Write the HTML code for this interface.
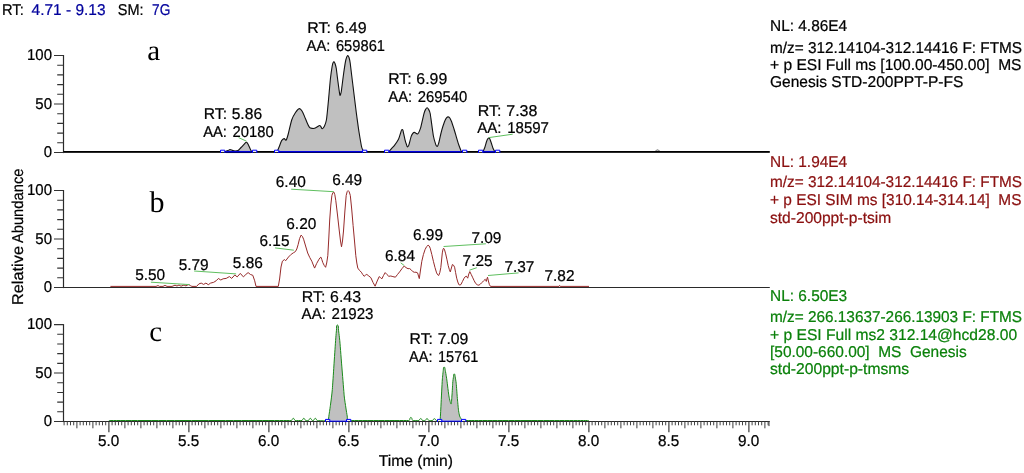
<!DOCTYPE html>
<html><head><meta charset="utf-8"><title>Chromatogram</title>
<style>
html,body{margin:0;padding:0;background:#fff;}
body{width:1024px;height:473px;overflow:hidden;}
svg{display:block;font-family:"Liberation Sans",Arial,sans-serif;}
svg text{text-rendering:geometricPrecision;white-space:pre;stroke-width:0.22px;paint-order:stroke;}
</style></head><body>
<svg width="1024" height="473" viewBox="0 0 1024 473">
<rect width="1024" height="473" fill="#fff"/>
<text x="108.7" y="446.2" fill="#000" stroke="#000" font-size="15.7" text-anchor="middle" textLength="21.3" lengthAdjust="spacingAndGlyphs">5.0</text>
<text x="188.7" y="446.2" fill="#000" stroke="#000" font-size="15.7" text-anchor="middle" textLength="21.3" lengthAdjust="spacingAndGlyphs">5.5</text>
<text x="268.7" y="446.2" fill="#000" stroke="#000" font-size="15.7" text-anchor="middle" textLength="21.3" lengthAdjust="spacingAndGlyphs">6.0</text>
<text x="348.7" y="446.2" fill="#000" stroke="#000" font-size="15.7" text-anchor="middle" textLength="21.3" lengthAdjust="spacingAndGlyphs">6.5</text>
<text x="428.7" y="446.2" fill="#000" stroke="#000" font-size="15.7" text-anchor="middle" textLength="21.3" lengthAdjust="spacingAndGlyphs">7.0</text>
<text x="508.7" y="446.2" fill="#000" stroke="#000" font-size="15.7" text-anchor="middle" textLength="21.3" lengthAdjust="spacingAndGlyphs">7.5</text>
<text x="588.7" y="446.2" fill="#000" stroke="#000" font-size="15.7" text-anchor="middle" textLength="21.3" lengthAdjust="spacingAndGlyphs">8.0</text>
<text x="668.7" y="446.2" fill="#000" stroke="#000" font-size="15.7" text-anchor="middle" textLength="21.3" lengthAdjust="spacingAndGlyphs">8.5</text>
<text x="748.7" y="446.2" fill="#000" stroke="#000" font-size="15.7" text-anchor="middle" textLength="21.3" lengthAdjust="spacingAndGlyphs">9.0</text>
<text x="415.9" y="465.6" fill="#000" stroke="#000" font-size="15.7" text-anchor="middle" textLength="74.2" lengthAdjust="spacingAndGlyphs">Time (min)</text>
<g transform="translate(22.7,305.0) rotate(-90)" stroke="#000" font-size="15.7"><text x="0" y="0" textLength="59.0" lengthAdjust="spacingAndGlyphs">Relative</text><text x="61.9" y="0" textLength="74.6" lengthAdjust="spacingAndGlyphs">Abundance</text></g>
<text x="2.0" y="15.0" fill="#000" stroke="#000" font-size="15.7" textLength="21.8" lengthAdjust="spacingAndGlyphs">RT:</text>
<text x="31.6" y="15.0" fill="#00009c" stroke="#00009c" font-size="15.7" textLength="73.9" lengthAdjust="spacingAndGlyphs">4.71 - 9.13</text>
<text x="117.8" y="15.0" fill="#000" stroke="#000" font-size="15.7" textLength="25.8" lengthAdjust="spacingAndGlyphs">SM:</text>
<text x="152.0" y="15.0" fill="#00009c" stroke="#00009c" font-size="15.7" textLength="18.3" lengthAdjust="spacingAndGlyphs">7G</text>
<text x="147.3" y="60.1" font-family="'Liberation Serif',serif" font-size="29" stroke="none">a</text>
<text x="149.5" y="211.7" font-family="'Liberation Serif',serif" font-size="30" stroke="none">b</text>
<text x="149.2" y="340.8" font-family="'Liberation Serif',serif" font-size="28.8" stroke="none">c</text>
<path d="M225.5,151.5 C225.5,151.5 227.4,150.8 228.0,150.6 C228.6,150.4 229.4,149.6 230.0,149.6 C230.6,149.6 231.8,150.2 232.5,150.4 C233.2,150.6 234.3,151.0 235.0,151.0 C235.7,151.0 237.3,151.0 238.0,150.6 C238.7,150.2 240.2,148.3 241.0,147.5 C241.8,146.7 244.0,144.3 244.5,143.8 C245.0,143.3 245.8,142.1 246.5,142.2 C247.2,142.3 247.8,143.8 248.2,144.5 C248.6,145.2 249.6,147.7 250.0,148.5 C250.4,149.3 251.6,151.5 251.6,151.5Z" fill="#c0c0c0" stroke="none"/>
<path d="M225.5,151.5 C225.5,151.5 227.4,150.8 228.0,150.6 C228.6,150.4 229.4,149.6 230.0,149.6 C230.6,149.6 231.8,150.2 232.5,150.4 C233.2,150.6 234.3,151.0 235.0,151.0 C235.7,151.0 237.3,151.0 238.0,150.6 C238.7,150.2 240.2,148.3 241.0,147.5 C241.8,146.7 244.0,144.3 244.5,143.8 C245.0,143.3 245.8,142.1 246.5,142.2 C247.2,142.3 247.8,143.8 248.2,144.5 C248.6,145.2 249.6,147.7 250.0,148.5 C250.4,149.3 251.6,151.5 251.6,151.5" fill="none" stroke="#111" stroke-width="1.1"/>
<path d="M277.2,151.5 C277.2,151.5 278.9,147.5 279.5,146.0 C280.1,144.5 281.1,141.3 281.6,140.6 C282.1,139.9 283.4,138.7 284.1,138.6 C284.8,138.5 285.7,140.7 286.1,140.2 C286.5,139.7 288.0,135.0 288.5,133.0 C289.0,131.0 291.0,122.1 291.7,120.0 C292.4,117.9 294.7,113.7 295.5,112.5 C296.3,111.3 298.3,108.8 299.3,108.6 C300.3,108.4 301.5,110.2 302.0,111.0 C302.5,111.8 303.8,114.7 304.4,116.1 C305.0,117.5 306.4,121.1 307.0,122.5 C307.6,123.9 309.0,126.8 309.5,127.4 C310.0,128.0 311.3,128.3 312.0,128.4 C312.7,128.5 313.8,128.5 314.5,128.3 C315.2,128.1 316.3,127.4 317.0,127.0 C317.7,126.6 319.1,125.5 319.6,125.5 C320.1,125.5 320.7,126.4 321.0,126.8 C321.3,127.2 321.7,128.9 322.3,128.8 C322.9,128.7 324.1,126.9 324.5,126.0 C324.9,125.1 326.1,121.7 326.4,120.0 C326.7,118.3 328.0,105.4 328.5,100.0 C329.0,94.6 330.1,81.3 330.5,78.0 C330.9,74.7 332.0,67.2 332.2,66.0 C332.4,64.8 333.2,62.2 333.6,61.8 C334.0,61.4 334.8,62.9 335.0,63.5 C335.2,64.1 336.1,67.1 336.3,68.5 C336.5,69.9 337.5,78.4 338.0,82.0 C338.5,85.6 339.6,94.3 339.9,95.2 C340.2,96.1 341.0,92.9 341.2,92.0 C341.4,91.1 343.2,76.5 343.7,73.0 C344.2,69.5 345.5,61.2 345.8,60.0 C346.1,58.8 347.0,56.0 347.5,55.6 C348.0,55.2 348.8,56.9 349.0,57.5 C349.2,58.1 350.0,61.5 350.2,63.0 C350.4,64.5 352.2,79.8 353.0,86.0 C353.8,92.2 355.7,108.5 356.4,113.5 C357.1,118.5 358.4,128.2 359.0,132.0 C359.6,135.8 361.2,144.9 361.4,146.0 C361.6,147.1 362.5,149.5 362.8,150.0 C363.1,150.5 364.2,151.5 364.2,151.5Z" fill="#c0c0c0" stroke="none"/>
<path d="M277.2,151.5 C277.2,151.5 278.9,147.5 279.5,146.0 C280.1,144.5 281.1,141.3 281.6,140.6 C282.1,139.9 283.4,138.7 284.1,138.6 C284.8,138.5 285.7,140.7 286.1,140.2 C286.5,139.7 288.0,135.0 288.5,133.0 C289.0,131.0 291.0,122.1 291.7,120.0 C292.4,117.9 294.7,113.7 295.5,112.5 C296.3,111.3 298.3,108.8 299.3,108.6 C300.3,108.4 301.5,110.2 302.0,111.0 C302.5,111.8 303.8,114.7 304.4,116.1 C305.0,117.5 306.4,121.1 307.0,122.5 C307.6,123.9 309.0,126.8 309.5,127.4 C310.0,128.0 311.3,128.3 312.0,128.4 C312.7,128.5 313.8,128.5 314.5,128.3 C315.2,128.1 316.3,127.4 317.0,127.0 C317.7,126.6 319.1,125.5 319.6,125.5 C320.1,125.5 320.7,126.4 321.0,126.8 C321.3,127.2 321.7,128.9 322.3,128.8 C322.9,128.7 324.1,126.9 324.5,126.0 C324.9,125.1 326.1,121.7 326.4,120.0 C326.7,118.3 328.0,105.4 328.5,100.0 C329.0,94.6 330.1,81.3 330.5,78.0 C330.9,74.7 332.0,67.2 332.2,66.0 C332.4,64.8 333.2,62.2 333.6,61.8 C334.0,61.4 334.8,62.9 335.0,63.5 C335.2,64.1 336.1,67.1 336.3,68.5 C336.5,69.9 337.5,78.4 338.0,82.0 C338.5,85.6 339.6,94.3 339.9,95.2 C340.2,96.1 341.0,92.9 341.2,92.0 C341.4,91.1 343.2,76.5 343.7,73.0 C344.2,69.5 345.5,61.2 345.8,60.0 C346.1,58.8 347.0,56.0 347.5,55.6 C348.0,55.2 348.8,56.9 349.0,57.5 C349.2,58.1 350.0,61.5 350.2,63.0 C350.4,64.5 352.2,79.8 353.0,86.0 C353.8,92.2 355.7,108.5 356.4,113.5 C357.1,118.5 358.4,128.2 359.0,132.0 C359.6,135.8 361.2,144.9 361.4,146.0 C361.6,147.1 362.5,149.5 362.8,150.0 C363.1,150.5 364.2,151.5 364.2,151.5" fill="none" stroke="#111" stroke-width="1.1"/>
<path d="M389.0,151.5 C389.0,151.5 390.8,149.4 391.5,148.6 C392.2,147.8 393.6,146.5 394.3,145.6 C395.0,144.7 397.7,140.9 398.5,139.3 C399.3,137.7 400.2,134.0 400.6,133.0 C401.0,132.0 401.2,129.7 402.1,129.5 C403.0,129.3 403.2,131.7 403.4,132.5 C403.6,133.3 404.6,138.0 404.9,139.3 C405.2,140.6 406.0,143.2 406.3,144.0 C406.6,144.8 407.0,147.1 407.8,146.8 C408.6,146.5 409.1,144.1 409.4,143.0 C409.7,141.9 410.9,137.3 411.2,136.4 C411.5,135.5 412.5,133.8 412.8,133.4 C413.1,133.0 413.9,132.4 414.4,132.4 C414.9,132.4 415.6,133.0 416.0,133.2 C416.4,133.4 417.2,134.2 417.6,134.0 C418.0,133.8 418.9,132.3 419.2,131.6 C419.5,130.9 420.4,128.8 420.7,127.7 C421.0,126.6 423.6,115.2 423.9,113.9 C424.2,112.6 425.3,109.9 425.6,109.4 C425.9,108.9 426.5,107.8 427.1,107.8 C427.7,107.8 428.3,108.9 428.6,109.4 C428.9,109.9 430.1,112.7 430.3,114.0 C430.5,115.3 433.0,134.0 433.4,136.0 C433.8,138.0 435.1,142.5 435.4,143.4 C435.7,144.3 436.3,146.7 437.2,146.4 C438.1,146.1 438.6,143.2 439.0,142.0 C439.4,140.8 440.3,136.1 440.8,134.0 C441.3,131.9 442.5,127.5 443.0,126.0 C443.5,124.5 444.6,121.2 445.0,120.4 C445.4,119.6 446.4,117.9 446.7,117.6 C447.0,117.3 447.8,116.8 448.2,116.9 C448.6,117.0 449.5,117.6 449.8,118.0 C450.1,118.4 451.0,120.4 451.4,121.3 C451.8,122.2 453.3,126.9 454.0,129.0 C454.7,131.1 456.1,136.2 456.7,138.2 C457.3,140.2 458.4,143.9 459.0,145.5 C459.6,147.1 461.3,151.5 461.3,151.5Z" fill="#c0c0c0" stroke="none"/>
<path d="M389.0,151.5 C389.0,151.5 390.8,149.4 391.5,148.6 C392.2,147.8 393.6,146.5 394.3,145.6 C395.0,144.7 397.7,140.9 398.5,139.3 C399.3,137.7 400.2,134.0 400.6,133.0 C401.0,132.0 401.2,129.7 402.1,129.5 C403.0,129.3 403.2,131.7 403.4,132.5 C403.6,133.3 404.6,138.0 404.9,139.3 C405.2,140.6 406.0,143.2 406.3,144.0 C406.6,144.8 407.0,147.1 407.8,146.8 C408.6,146.5 409.1,144.1 409.4,143.0 C409.7,141.9 410.9,137.3 411.2,136.4 C411.5,135.5 412.5,133.8 412.8,133.4 C413.1,133.0 413.9,132.4 414.4,132.4 C414.9,132.4 415.6,133.0 416.0,133.2 C416.4,133.4 417.2,134.2 417.6,134.0 C418.0,133.8 418.9,132.3 419.2,131.6 C419.5,130.9 420.4,128.8 420.7,127.7 C421.0,126.6 423.6,115.2 423.9,113.9 C424.2,112.6 425.3,109.9 425.6,109.4 C425.9,108.9 426.5,107.8 427.1,107.8 C427.7,107.8 428.3,108.9 428.6,109.4 C428.9,109.9 430.1,112.7 430.3,114.0 C430.5,115.3 433.0,134.0 433.4,136.0 C433.8,138.0 435.1,142.5 435.4,143.4 C435.7,144.3 436.3,146.7 437.2,146.4 C438.1,146.1 438.6,143.2 439.0,142.0 C439.4,140.8 440.3,136.1 440.8,134.0 C441.3,131.9 442.5,127.5 443.0,126.0 C443.5,124.5 444.6,121.2 445.0,120.4 C445.4,119.6 446.4,117.9 446.7,117.6 C447.0,117.3 447.8,116.8 448.2,116.9 C448.6,117.0 449.5,117.6 449.8,118.0 C450.1,118.4 451.0,120.4 451.4,121.3 C451.8,122.2 453.3,126.9 454.0,129.0 C454.7,131.1 456.1,136.2 456.7,138.2 C457.3,140.2 458.4,143.9 459.0,145.5 C459.6,147.1 461.3,151.5 461.3,151.5" fill="none" stroke="#111" stroke-width="1.1"/>
<path d="M483.1,151.5 C483.1,151.5 484.4,148.6 484.8,147.5 C485.2,146.4 486.1,142.9 486.4,142.0 C486.7,141.1 487.6,139.1 487.8,138.8 C488.0,138.5 488.5,138.0 488.8,138.0 C489.1,138.0 489.7,138.6 489.9,139.0 C490.1,139.4 490.9,141.9 491.3,143.0 C491.7,144.1 492.6,147.3 493.0,148.2 C493.4,149.1 494.7,151.5 494.7,151.5Z" fill="#c0c0c0" stroke="none"/>
<path d="M483.1,151.5 C483.1,151.5 484.4,148.6 484.8,147.5 C485.2,146.4 486.1,142.9 486.4,142.0 C486.7,141.1 487.6,139.1 487.8,138.8 C488.0,138.5 488.5,138.0 488.8,138.0 C489.1,138.0 489.7,138.6 489.9,139.0 C490.1,139.4 490.9,141.9 491.3,143.0 C491.7,144.1 492.6,147.3 493.0,148.2 C493.4,149.1 494.7,151.5 494.7,151.5" fill="none" stroke="#111" stroke-width="1.1"/>
<path d="M655.5,150.7 C655.5,150.7 656.2,150.4 656.5,150.3 C656.8,150.2 657.2,149.9 657.5,149.9 C657.8,149.9 658.2,150.2 658.5,150.3 C658.8,150.4 659.6,150.7 659.6,150.7" fill="#ddd" stroke="#444" stroke-width="0.8"/>
<path d="M238.6,137.6 L246.5,141.2" stroke="#5fbf5f" stroke-width="1" fill="none"/>
<path d="M488.8,137.6 L512.7,134.2" stroke="#5fbf5f" stroke-width="1" fill="none"/>
<text x="203.8" y="118.7" fill="#000" stroke="#000" font-size="15.7" textLength="58.3" lengthAdjust="spacingAndGlyphs" word-spacing="0.3">RT: 5.86</text>
<text x="203.2" y="136.5" fill="#000" stroke="#000" font-size="15.7" textLength="70.4" lengthAdjust="spacingAndGlyphs" word-spacing="1.6">AA: 20180</text>
<text x="307.2" y="33.1" fill="#000" stroke="#000" font-size="15.7" textLength="59.4" lengthAdjust="spacingAndGlyphs" word-spacing="0.3">RT: 6.49</text>
<text x="306.6" y="50.6" fill="#000" stroke="#000" font-size="15.7" textLength="78.4" lengthAdjust="spacingAndGlyphs" word-spacing="1.6">AA: 659861</text>
<text x="388.2" y="84.0" fill="#000" stroke="#000" font-size="15.7" textLength="59.0" lengthAdjust="spacingAndGlyphs" word-spacing="0.3">RT: 6.99</text>
<text x="388.3" y="102.4" fill="#000" stroke="#000" font-size="15.7" textLength="79.0" lengthAdjust="spacingAndGlyphs" word-spacing="1.6">AA: 269540</text>
<text x="477.8" y="115.7" fill="#000" stroke="#000" font-size="15.7" textLength="59.6" lengthAdjust="spacingAndGlyphs" word-spacing="0.3">RT: 7.38</text>
<text x="477.2" y="133.0" fill="#000" stroke="#000" font-size="15.7" textLength="71.8" lengthAdjust="spacingAndGlyphs" word-spacing="1.6">AA: 18597</text>
<path d="M110.4,286.4 L156.0,286.4 L158.0,285.6 L159.5,286.4 L163.0,286.4 L165.0,285.4 L167.0,286.4 L172.0,286.4 L175.0,285.2 L177.0,286.0 L179.0,285.0 L181.0,286.2 L184.0,285.0 L186.0,286.0 L187.0,285.2 L188.8,284.6 L190.4,285.6 L191.9,286.4 L196.6,286.4 L198.9,283.9 L201.2,283.1 L203.6,284.4 L205.9,283.1 L208.3,284.7 L210.6,283.1 L213.7,282.3 L216.1,280.8 L218.4,278.5 L220.8,280.0 L223.1,278.8 L226.2,278.4 L229.4,276.6 L231.7,278.4 L234.8,275.0 L237.2,276.9 L240.3,273.4 L243.4,276.9 L245.8,274.5 L248.1,272.6 L250.5,274.5 L252.8,275.3 L254.7,280.8 L256.0,286.4 L278.3,286.4 L279.6,279.0 L281.0,267.0 L282.4,261.2 L284.4,259.6 L285.7,260.7 L288.5,257.0 L291.2,254.3 L293.4,252.8 L295.4,251.6 L296.8,249.0 L298.1,244.7 L299.6,238.5 L301.1,235.1 L302.3,236.3 L303.6,239.2 L305.6,246.0 L307.7,253.0 L309.8,257.6 L311.8,261.2 L313.3,265.0 L314.6,268.1 L316.6,263.6 L318.7,259.8 L320.0,257.8 L320.9,257.1 L321.8,259.5 L322.8,262.6 L324.2,265.4 L325.6,267.3 L326.7,263.0 L327.8,255.7 L328.8,238.0 L329.7,220.0 L330.8,205.0 L331.9,195.4 L332.9,192.6 L333.8,192.0 L334.8,194.6 L335.8,200.7 L337.5,215.0 L339.3,231.0 L340.5,241.0 L341.5,246.8 L342.5,241.0 L343.5,231.0 L344.9,211.0 L346.2,195.4 L347.2,191.6 L348.1,190.6 L349.2,191.8 L350.3,195.4 L351.7,209.0 L353.1,225.5 L354.5,241.0 L355.8,255.7 L356.8,263.0 L357.8,268.1 L359.5,270.4 L361.3,272.2 L362.8,274.6 L364.1,276.3 L365.4,275.2 L366.8,274.4 L368.8,276.0 L370.9,277.7 L373.0,282.4 L375.1,286.2 L377.2,281.0 L379.2,276.6 L380.5,277.6 L381.9,278.8 L383.5,275.5 L385.2,272.6 L387.0,274.6 L388.8,276.3 L390.8,276.0 L392.9,276.6 L395.4,277.2 L397.4,274.6 L399.6,271.9 L402.0,268.6 L404.2,266.0 L406.0,267.6 L408.0,268.7 L409.6,268.6 L411.2,269.8 L412.8,271.6 L414.4,272.3 L416.0,272.2 L417.6,272.9 L418.5,276.0 L419.3,278.6 L420.5,270.0 L421.8,261.3 L423.4,254.6 L425.0,249.7 L426.6,246.6 L428.1,245.2 L429.2,246.0 L430.2,248.2 L431.8,254.5 L433.4,261.3 L435.0,267.6 L436.6,272.9 L437.7,274.8 L438.7,275.5 L439.8,272.6 L440.8,267.6 L441.6,260.0 L442.3,252.9 L443.0,249.3 L443.6,248.2 L444.6,250.0 L445.7,253.9 L447.0,259.8 L448.2,265.5 L449.3,269.4 L450.3,271.9 L451.4,268.0 L452.4,264.5 L453.5,265.2 L454.6,267.2 L455.6,272.6 L456.7,278.2 L457.8,282.0 L458.8,284.6 L459.9,285.0 L460.9,284.6 L462.5,281.4 L464.1,278.2 L465.2,276.8 L466.2,276.1 L467.0,277.0 L467.7,278.2 L468.8,274.0 L469.8,271.6 L471.2,274.4 L472.5,277.2 L474.1,280.6 L475.7,283.5 L477.3,284.8 L478.9,285.2 L480.5,284.0 L482.0,282.5 L483.6,280.8 L485.2,279.3 L485.8,280.6 L486.3,281.4 L486.9,279.0 L487.5,277.2 L488.4,281.0 L489.4,284.6 L490.5,286.4 L559.0,286.4 L559.6,285.4 L560.2,286.4 L589.0,286.4" fill="none" stroke="#962a2a" stroke-width="1" stroke-linejoin="round"/>
<path d="M150.9,282.2 L189.5,284.6" stroke="#5fbf5f" stroke-width="1" fill="none"/>
<path d="M194.1,271 L236.1,273.9" stroke="#5fbf5f" stroke-width="1" fill="none"/>
<path d="M275.1,247.9 L293.8,250.2" stroke="#5fbf5f" stroke-width="1" fill="none"/>
<path d="M291.2,189.2 L333.8,191.7" stroke="#5fbf5f" stroke-width="1" fill="none"/>
<path d="M400.7,262.8 L404.2,265.5" stroke="#5fbf5f" stroke-width="1" fill="none"/>
<path d="M443.6,246.5 L485.9,243.8" stroke="#5fbf5f" stroke-width="1" fill="none"/>
<path d="M469.4,270.2 L476.8,267.7" stroke="#5fbf5f" stroke-width="1" fill="none"/>
<path d="M488,275.5 L518.6,272.9" stroke="#5fbf5f" stroke-width="1" fill="none"/>
<text x="135.2" y="280.4" fill="#000" stroke="#000" font-size="15.7" textLength="30.0" lengthAdjust="spacingAndGlyphs">5.50</text>
<text x="178.7" y="269.5" fill="#000" stroke="#000" font-size="15.7" textLength="30.0" lengthAdjust="spacingAndGlyphs">5.79</text>
<text x="232.8" y="268.0" fill="#000" stroke="#000" font-size="15.7" textLength="30.0" lengthAdjust="spacingAndGlyphs">5.86</text>
<text x="259.5" y="246.0" fill="#000" stroke="#000" font-size="15.7" textLength="30.0" lengthAdjust="spacingAndGlyphs">6.15</text>
<text x="286.3" y="229.0" fill="#000" stroke="#000" font-size="15.7" textLength="30.0" lengthAdjust="spacingAndGlyphs">6.20</text>
<text x="275.8" y="187.0" fill="#000" stroke="#000" font-size="15.7" textLength="30.0" lengthAdjust="spacingAndGlyphs">6.40</text>
<text x="332.2" y="184.8" fill="#000" stroke="#000" font-size="15.7" textLength="30.0" lengthAdjust="spacingAndGlyphs">6.49</text>
<text x="385.0" y="260.9" fill="#000" stroke="#000" font-size="15.7" textLength="30.0" lengthAdjust="spacingAndGlyphs">6.84</text>
<text x="413.0" y="239.7" fill="#000" stroke="#000" font-size="15.7" textLength="30.0" lengthAdjust="spacingAndGlyphs">6.99</text>
<text x="471.4" y="242.9" fill="#000" stroke="#000" font-size="15.7" textLength="30.0" lengthAdjust="spacingAndGlyphs">7.09</text>
<text x="462.6" y="265.7" fill="#000" stroke="#000" font-size="15.7" textLength="30.0" lengthAdjust="spacingAndGlyphs">7.25</text>
<text x="504.4" y="271.6" fill="#000" stroke="#000" font-size="15.7" textLength="30.0" lengthAdjust="spacingAndGlyphs">7.37</text>
<text x="544.5" y="281.3" fill="#000" stroke="#000" font-size="15.7" textLength="30.0" lengthAdjust="spacingAndGlyphs">7.82</text>
<path d="M327.5,420.5 C327.5,420.5 328.7,416.5 329.0,415.0 C329.3,413.5 330.2,407.0 330.6,404.0 C331.0,401.0 332.0,393.5 332.3,389.6 C332.6,385.7 333.5,372.4 333.9,366.0 C334.3,359.6 335.3,345.2 335.5,342.0 C335.7,338.8 336.3,331.4 336.5,330.0 C336.7,328.6 336.0,325.0 337.4,325.0 C338.8,325.0 338.3,328.6 338.5,330.0 C338.7,331.4 339.6,338.8 339.9,342.0 C340.2,345.2 341.5,363.0 342.1,370.0 C342.7,377.0 343.9,392.6 344.2,395.9 C344.5,399.2 345.6,405.8 345.9,408.0 C346.2,410.2 347.0,414.8 347.2,416.0 C347.4,417.2 348.3,420.5 348.3,420.5Z" fill="#c0c0c0" stroke="none"/>
<path d="M440.0,420.5 C440.0,420.5 440.8,409.2 441.0,405.0 C441.2,400.8 442.1,382.7 442.3,380.0 C442.5,377.3 443.2,370.8 443.3,370.0 C443.4,369.2 443.4,366.8 444.2,367.0 C445.0,367.2 445.1,369.5 445.3,370.5 C445.5,371.5 446.1,375.2 446.4,376.9 C446.7,378.6 447.3,383.5 447.6,386.0 C447.9,388.5 448.7,394.5 448.9,395.9 C449.1,397.3 449.8,400.2 450.0,401.0 C450.2,401.8 450.9,404.7 451.2,403.9 C451.5,403.1 451.8,397.4 452.0,395.0 C452.2,392.6 452.6,385.1 452.7,383.3 C452.8,381.5 453.4,377.3 453.5,376.6 C453.6,375.9 453.6,373.7 454.3,373.9 C455.0,374.1 455.0,376.1 455.2,377.0 C455.4,377.9 456.0,381.6 456.2,383.3 C456.4,385.0 457.2,397.0 457.5,400.0 C457.8,403.0 458.4,409.6 458.6,411.0 C458.8,412.4 459.4,415.2 459.6,416.0 C459.8,416.8 460.6,418.0 461.0,418.6 C461.4,419.2 462.6,420.5 462.6,420.5Z" fill="#c0c0c0" stroke="none"/>
<path d="M108.9,420.5 C108.9,420.5 291.0,420.5 291.5,420.5 C292.0,420.5 292.2,419.2 292.4,419.0 C292.6,418.7 293.0,418.3 293.3,418.3 C293.6,418.3 294.0,418.7 294.2,419.0 C294.4,419.2 294.6,420.4 295.1,420.5 C295.6,420.6 301.5,420.6 302.0,420.5 C302.5,420.4 302.7,419.2 302.9,419.0 C303.1,418.7 303.5,418.3 303.8,418.3 C304.1,418.3 304.5,418.7 304.7,419.0 C304.9,419.2 305.2,420.3 305.6,420.5 C306.0,420.7 308.1,420.7 308.5,420.5 C308.9,420.3 309.2,419.2 309.4,419.0 C309.6,418.7 310.0,418.3 310.3,418.3 C310.6,418.3 311.0,418.7 311.2,419.0 C311.4,419.2 311.8,420.3 312.1,420.5 C312.4,420.7 313.2,420.7 313.5,420.5 C313.8,420.3 314.2,419.2 314.4,419.0 C314.6,418.7 315.0,418.3 315.3,418.3 C315.6,418.3 316.0,418.7 316.2,419.0 C316.4,419.2 316.6,420.4 317.1,420.5 C317.6,420.6 326.1,421.1 327.5,420.5 C328.9,419.9 328.7,416.5 329.0,415.0 C329.3,413.5 330.2,407.0 330.6,404.0 C331.0,401.0 332.0,393.5 332.3,389.6 C332.6,385.7 333.5,372.4 333.9,366.0 C334.3,359.6 335.3,345.2 335.5,342.0 C335.7,338.8 336.3,331.4 336.5,330.0 C336.7,328.6 336.0,325.0 337.4,325.0 C338.8,325.0 338.3,328.6 338.5,330.0 C338.7,331.4 339.6,338.8 339.9,342.0 C340.2,345.2 341.5,363.0 342.1,370.0 C342.7,377.0 343.9,392.6 344.2,395.9 C344.5,399.2 345.6,405.8 345.9,408.0 C346.2,410.2 347.0,414.8 347.2,416.0 C347.4,417.2 347.1,420.4 348.3,420.5 C349.5,420.6 408.4,420.5 409.1,420.5 C409.8,420.5 409.8,418.6 410.0,418.3 C410.2,418.0 410.5,417.3 410.9,417.3 C411.3,417.3 411.6,418.0 411.8,418.3 C412.0,418.6 412.1,420.3 412.7,420.5 C413.3,420.7 418.5,420.6 418.9,420.5 C419.3,420.4 419.6,419.3 419.8,419.1 C420.0,418.9 420.4,418.5 420.7,418.5 C421.0,418.5 421.4,418.9 421.6,419.1 C421.8,419.3 422.1,420.3 422.5,420.5 C422.9,420.7 424.8,420.7 425.2,420.5 C425.6,420.3 425.9,419.4 426.1,419.2 C426.3,419.0 426.7,418.6 427.0,418.6 C427.3,418.6 427.7,419.0 427.9,419.2 C428.1,419.4 428.4,420.4 428.8,420.5 C429.2,420.6 432.2,420.6 432.6,420.5 C433.0,420.4 433.3,419.4 433.5,419.2 C433.7,419.0 434.1,418.7 434.4,418.7 C434.7,418.7 435.1,419.0 435.3,419.2 C435.5,419.4 435.8,420.4 436.2,420.5 C436.6,420.6 439.7,421.5 440.0,420.5 C440.3,419.5 440.8,409.2 441.0,405.0 C441.2,400.8 442.1,382.7 442.3,380.0 C442.5,377.3 443.2,370.8 443.3,370.0 C443.4,369.2 443.4,366.8 444.2,367.0 C445.0,367.2 445.1,369.5 445.3,370.5 C445.5,371.5 446.1,375.2 446.4,376.9 C446.7,378.6 447.3,383.5 447.6,386.0 C447.9,388.5 448.7,394.5 448.9,395.9 C449.1,397.3 449.8,400.2 450.0,401.0 C450.2,401.8 450.9,404.7 451.2,403.9 C451.5,403.1 451.8,397.4 452.0,395.0 C452.2,392.6 452.6,385.1 452.7,383.3 C452.8,381.5 453.4,377.3 453.5,376.6 C453.6,375.9 453.6,373.7 454.3,373.9 C455.0,374.1 455.0,376.1 455.2,377.0 C455.4,377.9 456.0,381.6 456.2,383.3 C456.4,385.0 457.2,397.0 457.5,400.0 C457.8,403.0 458.4,409.6 458.6,411.0 C458.8,412.4 459.4,415.2 459.6,416.0 C459.8,416.8 460.6,418.0 461.0,418.6 C461.4,419.2 461.9,420.5 462.6,420.5 C463.3,420.5 588.9,420.5 588.9,420.5" fill="none" stroke="#1a8a1a" stroke-width="1"/>
<text x="301.8" y="302.0" fill="#000" stroke="#000" font-size="15.7" textLength="59.2" lengthAdjust="spacingAndGlyphs" word-spacing="0.3">RT: 6.43</text>
<text x="301.6" y="319.0" fill="#000" stroke="#000" font-size="15.7" textLength="71.8" lengthAdjust="spacingAndGlyphs" word-spacing="1.6">AA: 21923</text>
<text x="409.6" y="344.2" fill="#000" stroke="#000" font-size="15.7" textLength="58.8" lengthAdjust="spacingAndGlyphs" word-spacing="0.3">RT: 7.09</text>
<text x="409.0" y="362.3" fill="#000" stroke="#000" font-size="15.7" textLength="69.4" lengthAdjust="spacingAndGlyphs" word-spacing="1.6">AA: 15761</text>
<text x="770.0" y="31.1" fill="#000" stroke="#000" font-size="15.7" textLength="77.2" lengthAdjust="spacingAndGlyphs">NL: 4.86E4</text>
<text x="770.0" y="52.7" fill="#000" stroke="#000" font-size="15.7" textLength="252.1" lengthAdjust="spacingAndGlyphs">m/z= 312.14104-312.14416 F: FTMS</text>
<text x="770.0" y="69.8" fill="#000" stroke="#000" font-size="15.7" textLength="251.5" lengthAdjust="spacingAndGlyphs">+ p ESI Full ms [100.00-450.00]  MS</text>
<text x="770.0" y="86.9" fill="#000" stroke="#000" font-size="15.7" textLength="193.3" lengthAdjust="spacingAndGlyphs">Genesis STD-200PPT-P-FS</text>
<text x="770.0" y="166.8" fill="#8a0f0f" stroke="#8a0f0f" font-size="15.7" textLength="77.2" lengthAdjust="spacingAndGlyphs">NL: 1.94E4</text>
<text x="770.0" y="187.4" fill="#8a0f0f" stroke="#8a0f0f" font-size="15.7" textLength="252.1" lengthAdjust="spacingAndGlyphs">m/z= 312.14104-312.14416 F: FTMS</text>
<text x="770.0" y="204.5" fill="#8a0f0f" stroke="#8a0f0f" font-size="15.7" textLength="251.5" lengthAdjust="spacingAndGlyphs">+ p ESI SIM ms [310.14-314.14]  MS</text>
<text x="770.0" y="223.1" fill="#8a0f0f" stroke="#8a0f0f" font-size="15.7" textLength="121.2" lengthAdjust="spacingAndGlyphs">std-200ppt-p-tsim</text>
<text x="770.0" y="300.5" fill="#0a800a" stroke="#0a800a" font-size="15.7" textLength="77.2" lengthAdjust="spacingAndGlyphs">NL: 6.50E3</text>
<text x="770.0" y="321.7" fill="#0a800a" stroke="#0a800a" font-size="15.7" textLength="252.1" lengthAdjust="spacingAndGlyphs">m/z= 266.13637-266.13903 F: FTMS</text>
<text x="770.0" y="339.8" fill="#0a800a" stroke="#0a800a" font-size="15.7" textLength="247.1" lengthAdjust="spacingAndGlyphs">+ p ESI Full ms2 312.14@hcd28.00</text>
<text x="770.0" y="357.4" fill="#0a800a" stroke="#0a800a" font-size="15.7" textLength="196.7" lengthAdjust="spacingAndGlyphs">[50.00-660.00]  MS  Genesis</text>
<text x="770.0" y="373.9" fill="#0a800a" stroke="#0a800a" font-size="15.7" textLength="139.1" lengthAdjust="spacingAndGlyphs">std-200ppt-p-tmsms</text>
<path d="M63.5,55.0 V153.1" stroke="#2a2a2a" stroke-width="1.2" fill="none"/>
<path d="M54.0,152.50 H63.5 M57.2,142.80 H63.5 M57.2,133.10 H63.5 M57.2,123.40 H63.5 M57.2,113.70 H63.5 M54.0,104.00 H63.5 M57.2,94.30 H63.5 M57.2,84.60 H63.5 M57.2,74.90 H63.5 M57.2,65.20 H63.5 M54.0,55.50 H63.5 " stroke="#333" stroke-width="1.1" fill="none"/>
<text x="52.0" y="156.9" fill="#000" stroke="#000" font-size="15.7" text-anchor="end" textLength="8.3" lengthAdjust="spacingAndGlyphs">0</text>
<text x="52.0" y="108.7" fill="#000" stroke="#000" font-size="15.7" text-anchor="end" textLength="16.7" lengthAdjust="spacingAndGlyphs">50</text>
<text x="52.0" y="60.2" fill="#000" stroke="#000" font-size="15.7" text-anchor="end" textLength="25.0" lengthAdjust="spacingAndGlyphs">100</text>
<path d="M63.0,152.5 H769.8" stroke="#2a2a2a" stroke-width="1" fill="none"/>
<path d="M63.5,151.5 H769.8" stroke="#000" stroke-width="1" fill="none"/>
<path d="M63.5,190.0 V288.1" stroke="#2a2a2a" stroke-width="1.2" fill="none"/>
<path d="M54.0,287.50 H63.5 M57.2,277.80 H63.5 M57.2,268.10 H63.5 M57.2,258.40 H63.5 M57.2,248.70 H63.5 M54.0,239.00 H63.5 M57.2,229.30 H63.5 M57.2,219.60 H63.5 M57.2,209.90 H63.5 M57.2,200.20 H63.5 M54.0,190.50 H63.5 " stroke="#333" stroke-width="1.1" fill="none"/>
<text x="52.0" y="291.9" fill="#000" stroke="#000" font-size="15.7" text-anchor="end" textLength="8.3" lengthAdjust="spacingAndGlyphs">0</text>
<text x="52.0" y="243.7" fill="#000" stroke="#000" font-size="15.7" text-anchor="end" textLength="16.7" lengthAdjust="spacingAndGlyphs">50</text>
<text x="52.0" y="195.2" fill="#000" stroke="#000" font-size="15.7" text-anchor="end" textLength="25.0" lengthAdjust="spacingAndGlyphs">100</text>
<path d="M63.0,287.5 H769.8" stroke="#2a2a2a" stroke-width="1" fill="none"/>
<path d="M63.5,324.1 V422.1" stroke="#2a2a2a" stroke-width="1.2" fill="none"/>
<path d="M54.0,421.50 H63.5 M57.2,411.81 H63.5 M57.2,402.12 H63.5 M57.2,392.43 H63.5 M57.2,382.74 H63.5 M54.0,373.05 H63.5 M57.2,363.36 H63.5 M57.2,353.67 H63.5 M57.2,343.98 H63.5 M57.2,334.29 H63.5 M54.0,324.60 H63.5 " stroke="#333" stroke-width="1.1" fill="none"/>
<text x="52.0" y="425.9" fill="#000" stroke="#000" font-size="15.7" text-anchor="end" textLength="8.3" lengthAdjust="spacingAndGlyphs">0</text>
<text x="52.0" y="377.8" fill="#000" stroke="#000" font-size="15.7" text-anchor="end" textLength="16.7" lengthAdjust="spacingAndGlyphs">50</text>
<text x="52.0" y="329.3" fill="#000" stroke="#000" font-size="15.7" text-anchor="end" textLength="25.0" lengthAdjust="spacingAndGlyphs">100</text>
<path d="M63.0,421.5 H769.8" stroke="#2a2a2a" stroke-width="1" fill="none"/>
<path d="M64.10,421.5 V425.3 M67.30,421.5 V425.3 M70.50,421.5 V425.3 M73.70,421.5 V425.3 M80.10,421.5 V425.3 M83.30,421.5 V425.3 M86.50,421.5 V425.3 M89.70,421.5 V425.3 M96.10,421.5 V425.3 M99.30,421.5 V425.3 M102.50,421.5 V425.3 M105.70,421.5 V425.3 M112.10,421.5 V425.3 M115.30,421.5 V425.3 M118.50,421.5 V425.3 M121.70,421.5 V425.3 M128.10,421.5 V425.3 M131.30,421.5 V425.3 M134.50,421.5 V425.3 M137.70,421.5 V425.3 M144.10,421.5 V425.3 M147.30,421.5 V425.3 M150.50,421.5 V425.3 M153.70,421.5 V425.3 M160.10,421.5 V425.3 M163.30,421.5 V425.3 M166.50,421.5 V425.3 M169.70,421.5 V425.3 M176.10,421.5 V425.3 M179.30,421.5 V425.3 M182.50,421.5 V425.3 M185.70,421.5 V425.3 M192.10,421.5 V425.3 M195.30,421.5 V425.3 M198.50,421.5 V425.3 M201.70,421.5 V425.3 M208.10,421.5 V425.3 M211.30,421.5 V425.3 M214.50,421.5 V425.3 M217.70,421.5 V425.3 M224.10,421.5 V425.3 M227.30,421.5 V425.3 M230.50,421.5 V425.3 M233.70,421.5 V425.3 M240.10,421.5 V425.3 M243.30,421.5 V425.3 M246.50,421.5 V425.3 M249.70,421.5 V425.3 M256.10,421.5 V425.3 M259.30,421.5 V425.3 M262.50,421.5 V425.3 M265.70,421.5 V425.3 M272.10,421.5 V425.3 M275.30,421.5 V425.3 M278.50,421.5 V425.3 M281.70,421.5 V425.3 M288.10,421.5 V425.3 M291.30,421.5 V425.3 M294.50,421.5 V425.3 M297.70,421.5 V425.3 M304.10,421.5 V425.3 M307.30,421.5 V425.3 M310.50,421.5 V425.3 M313.70,421.5 V425.3 M320.10,421.5 V425.3 M323.30,421.5 V425.3 M326.50,421.5 V425.3 M329.70,421.5 V425.3 M336.10,421.5 V425.3 M339.30,421.5 V425.3 M342.50,421.5 V425.3 M345.70,421.5 V425.3 M352.10,421.5 V425.3 M355.30,421.5 V425.3 M358.50,421.5 V425.3 M361.70,421.5 V425.3 M368.10,421.5 V425.3 M371.30,421.5 V425.3 M374.50,421.5 V425.3 M377.70,421.5 V425.3 M384.10,421.5 V425.3 M387.30,421.5 V425.3 M390.50,421.5 V425.3 M393.70,421.5 V425.3 M400.10,421.5 V425.3 M403.30,421.5 V425.3 M406.50,421.5 V425.3 M409.70,421.5 V425.3 M416.10,421.5 V425.3 M419.30,421.5 V425.3 M422.50,421.5 V425.3 M425.70,421.5 V425.3 M432.10,421.5 V425.3 M435.30,421.5 V425.3 M438.50,421.5 V425.3 M441.70,421.5 V425.3 M448.10,421.5 V425.3 M451.30,421.5 V425.3 M454.50,421.5 V425.3 M457.70,421.5 V425.3 M464.10,421.5 V425.3 M467.30,421.5 V425.3 M470.50,421.5 V425.3 M473.70,421.5 V425.3 M480.10,421.5 V425.3 M483.30,421.5 V425.3 M486.50,421.5 V425.3 M489.70,421.5 V425.3 M496.10,421.5 V425.3 M499.30,421.5 V425.3 M502.50,421.5 V425.3 M505.70,421.5 V425.3 M512.10,421.5 V425.3 M515.30,421.5 V425.3 M518.50,421.5 V425.3 M521.70,421.5 V425.3 M528.10,421.5 V425.3 M531.30,421.5 V425.3 M534.50,421.5 V425.3 M537.70,421.5 V425.3 M544.10,421.5 V425.3 M547.30,421.5 V425.3 M550.50,421.5 V425.3 M553.70,421.5 V425.3 M560.10,421.5 V425.3 M563.30,421.5 V425.3 M566.50,421.5 V425.3 M569.70,421.5 V425.3 M576.10,421.5 V425.3 M579.30,421.5 V425.3 M582.50,421.5 V425.3 M585.70,421.5 V425.3 M592.10,421.5 V425.3 M595.30,421.5 V425.3 M598.50,421.5 V425.3 M601.70,421.5 V425.3 M608.10,421.5 V425.3 M611.30,421.5 V425.3 M614.50,421.5 V425.3 M617.70,421.5 V425.3 M624.10,421.5 V425.3 M627.30,421.5 V425.3 M630.50,421.5 V425.3 M633.70,421.5 V425.3 M640.10,421.5 V425.3 M643.30,421.5 V425.3 M646.50,421.5 V425.3 M649.70,421.5 V425.3 M656.10,421.5 V425.3 M659.30,421.5 V425.3 M662.50,421.5 V425.3 M665.70,421.5 V425.3 M672.10,421.5 V425.3 M675.30,421.5 V425.3 M678.50,421.5 V425.3 M681.70,421.5 V425.3 M688.10,421.5 V425.3 M691.30,421.5 V425.3 M694.50,421.5 V425.3 M697.70,421.5 V425.3 M704.10,421.5 V425.3 M707.30,421.5 V425.3 M710.50,421.5 V425.3 M713.70,421.5 V425.3 M720.10,421.5 V425.3 M723.30,421.5 V425.3 M726.50,421.5 V425.3 M729.70,421.5 V425.3 M736.10,421.5 V425.3 M739.30,421.5 V425.3 M742.50,421.5 V425.3 M745.70,421.5 V425.3 M752.10,421.5 V425.3 M755.30,421.5 V425.3 M758.50,421.5 V425.3 M761.70,421.5 V425.3 M768.10,421.5 V425.3 " stroke="#444" stroke-width="1" fill="none"/>
<path d="M76.90,421.5 V428.3 M92.90,421.5 V428.3 M124.90,421.5 V428.3 M140.90,421.5 V428.3 M156.90,421.5 V428.3 M172.90,421.5 V428.3 M204.90,421.5 V428.3 M220.90,421.5 V428.3 M236.90,421.5 V428.3 M252.90,421.5 V428.3 M284.90,421.5 V428.3 M300.90,421.5 V428.3 M316.90,421.5 V428.3 M332.90,421.5 V428.3 M364.90,421.5 V428.3 M380.90,421.5 V428.3 M396.90,421.5 V428.3 M412.90,421.5 V428.3 M444.90,421.5 V428.3 M460.90,421.5 V428.3 M476.90,421.5 V428.3 M492.90,421.5 V428.3 M524.90,421.5 V428.3 M540.90,421.5 V428.3 M556.90,421.5 V428.3 M572.90,421.5 V428.3 M604.90,421.5 V428.3 M620.90,421.5 V428.3 M636.90,421.5 V428.3 M652.90,421.5 V428.3 M684.90,421.5 V428.3 M700.90,421.5 V428.3 M716.90,421.5 V428.3 M732.90,421.5 V428.3 M764.90,421.5 V428.3 M769.00,421.5 V426.1 " stroke="#3a3a3a" stroke-width="1" fill="none"/>
<path d="M108.90,421.5 V432.3 M188.90,421.5 V432.3 M268.90,421.5 V432.3 M348.90,421.5 V432.3 M428.90,421.5 V432.3 M508.90,421.5 V432.3 M588.90,421.5 V432.3 M668.90,421.5 V432.3 M748.90,421.5 V432.3 " stroke="#2a2a2a" stroke-width="1.1" fill="none"/>
<path d="M225.5,151.5 H251.6" stroke="#0000e0" stroke-width="1.1"/>
<path d="M225.5,152.5 H251.6" stroke="#000070" stroke-width="1.1"/>
<path d="M277.2,151.5 H364.2" stroke="#0000e0" stroke-width="1.1"/>
<path d="M277.2,152.5 H364.2" stroke="#000070" stroke-width="1.1"/>
<path d="M389.0,151.5 H461.3" stroke="#0000e0" stroke-width="1.1"/>
<path d="M389.0,152.5 H461.3" stroke="#000070" stroke-width="1.1"/>
<path d="M483.1,151.5 H494.7" stroke="#0000e0" stroke-width="1.1"/>
<path d="M483.1,152.5 H494.7" stroke="#000070" stroke-width="1.1"/>
<path d="M327.5,421.2 H348.3" stroke="#0000e0" stroke-width="1.2"/>
<path d="M440.0,421.2 H462.6" stroke="#0000e0" stroke-width="1.2"/>
<rect x="220.5" y="150.2" width="4.3" height="1.8" fill="#eef" stroke="none"/>
<path d="M220.5,153.0 V150.2 H224.8 V153.0" fill="none" stroke="#0000ff" stroke-width="1"/>
<rect x="252.5" y="150.2" width="4.3" height="1.8" fill="#eef" stroke="none"/>
<path d="M252.5,153.0 V150.2 H256.8 V153.0" fill="none" stroke="#0000ff" stroke-width="1"/>
<rect x="274.5" y="150.2" width="4.3" height="1.8" fill="#eef" stroke="none"/>
<path d="M274.5,153.0 V150.2 H278.8 V153.0" fill="none" stroke="#0000ff" stroke-width="1"/>
<rect x="362.5" y="150.2" width="4.3" height="1.8" fill="#eef" stroke="none"/>
<path d="M362.5,153.0 V150.2 H366.8 V153.0" fill="none" stroke="#0000ff" stroke-width="1"/>
<rect x="384.5" y="150.2" width="4.3" height="1.8" fill="#eef" stroke="none"/>
<path d="M384.5,153.0 V150.2 H388.8 V153.0" fill="none" stroke="#0000ff" stroke-width="1"/>
<rect x="462.5" y="150.2" width="4.3" height="1.8" fill="#eef" stroke="none"/>
<path d="M462.5,153.0 V150.2 H466.8 V153.0" fill="none" stroke="#0000ff" stroke-width="1"/>
<rect x="478.5" y="150.2" width="4.3" height="1.8" fill="#eef" stroke="none"/>
<path d="M478.5,153.0 V150.2 H482.8 V153.0" fill="none" stroke="#0000ff" stroke-width="1"/>
<rect x="495.5" y="150.2" width="4.3" height="1.8" fill="#eef" stroke="none"/>
<path d="M495.5,153.0 V150.2 H499.8 V153.0" fill="none" stroke="#0000ff" stroke-width="1"/>
<rect x="325.5" y="419.4" width="4.3" height="1.6" fill="#eef" stroke="none"/>
<path d="M325.5,422.0 V419.4 H329.8 V422.0" fill="none" stroke="#0000ff" stroke-width="1"/>
<rect x="346.5" y="419.4" width="4.3" height="1.6" fill="#eef" stroke="none"/>
<path d="M346.5,422.0 V419.4 H350.8 V422.0" fill="none" stroke="#0000ff" stroke-width="1"/>
<rect x="437.5" y="419.4" width="4.3" height="1.6" fill="#eef" stroke="none"/>
<path d="M437.5,422.0 V419.4 H441.8 V422.0" fill="none" stroke="#0000ff" stroke-width="1"/>
<rect x="461.5" y="419.4" width="4.3" height="1.6" fill="#eef" stroke="none"/>
<path d="M461.5,422.0 V419.4 H465.8 V422.0" fill="none" stroke="#0000ff" stroke-width="1"/>
</svg>
</body></html>
